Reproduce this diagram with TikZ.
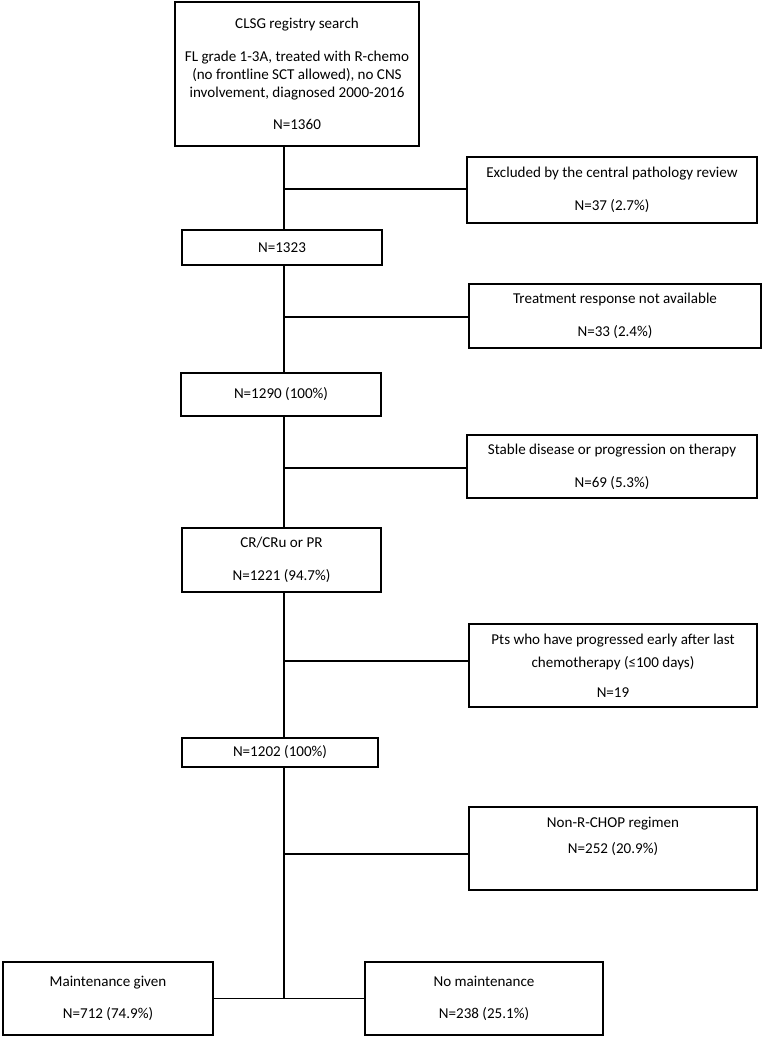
\documentclass[tikz,border=0pt]{standalone}
\usepackage{fontspec}
\setmainfont{Carlito}
\begin{document}
\begin{tikzpicture}[
  x=0.75pt,
  y=-0.75pt,
  line join=miter,
  flowbox/.style={draw=black,line width=1.4pt,align=center,inner sep=0pt,
    font=\fontsize{11.3}{13.5}\selectfont},
  boxsize/.style 2 args={minimum width=#1*0.75pt,minimum height=#2*0.75pt},
  link/.style={draw=black,line width=1.4pt}
]
  \useasboundingbox (0,0) rectangle (763,1038);

  % Main column of the flow chart.
  \node[flowbox,boxsize={244}{144}] (search) at (297,74)
    {CLSG registry search\\[11pt]
     FL grade 1-3A, treated with R-chemo\\
     (no frontline SCT allowed), no CNS\\
     involvement, diagnosed 2000-2016\\[11pt]
     N=1360};
  \node[flowbox,boxsize={200}{35}] (n1323) at (282,247.5) {N=1323};
  \node[flowbox,boxsize={200}{43}] (n1290) at (281,394.5) {N=1290 (100\%)};
  \node[flowbox,boxsize={199}{64}] (crcru) at (281.5,560)
    {CR/CRu or PR\\[11pt] N=1221 (94.7\%)};
  \node[flowbox,boxsize={196}{29}] (n1202) at (280,752.5) {N=1202 (100\%)};

  % Exclusions on the right.
  \node[flowbox,boxsize={290}{66}] (excl) at (612,190)
    {Excluded by the central pathology review\\[11pt] N=37 (2.7\%)};
  \node[flowbox,boxsize={292}{64}] (resp) at (615,316)
    {Treatment response not available\\[11pt] N=33 (2.4\%)};
  \node[flowbox,boxsize={290}{63}] (stable) at (612,466.5)
    {Stable disease or progression on therapy\\[11pt] N=69 (5.3\%)};
  \node[flowbox,boxsize={288}{83}] (early) at (613,665.5)
    {Pts who have progressed early after last\\[3.5pt]
     chemotherapy (≤100 days)\\[9pt] N=19};
  \node[flowbox,boxsize={288}{83},text depth=20pt] (nonrchop) at (613,848.5)
    {Non-R-CHOP regimen\\[6pt] N=252 (20.9\%)};

  % Final split.
  \node[flowbox,boxsize={210}{73}] (maint) at (108,998.5)
    {Maintenance given\\[11pt] N=712 (74.9\%)};
  \node[flowbox,boxsize={238}{73}] (nomaint) at (484,998.5)
    {No maintenance\\[11pt] N=238 (25.1\%)};

  % Junctions on the trunk.
  \coordinate (j1) at (284,189);
  \coordinate (j2) at (284,317);
  \coordinate (j3) at (284,468);
  \coordinate (j4) at (284,661);
  \coordinate (j5) at (284,854);
  \coordinate (j6) at (284,999);

  \draw[link] (search.south -| j1) -- (n1323.north -| j1);
  \draw[link] (n1323.south -| j1) -- (n1290.north -| j1);
  \draw[link] (n1290.south -| j1) -- (crcru.north -| j1);
  \draw[link] (crcru.south -| j1) -- (n1202.north -| j1);
  \draw[link] (n1202.south -| j1) -- (j6);
  \draw[link] (maint.east) -- (nomaint.west);

  \foreach \j/\b in {j1/excl,j2/resp,j3/stable,j4/early,j5/nonrchop} {
    \draw[link] (\j) -- (\j -| \b.west);
  }
\end{tikzpicture}
\end{document}
